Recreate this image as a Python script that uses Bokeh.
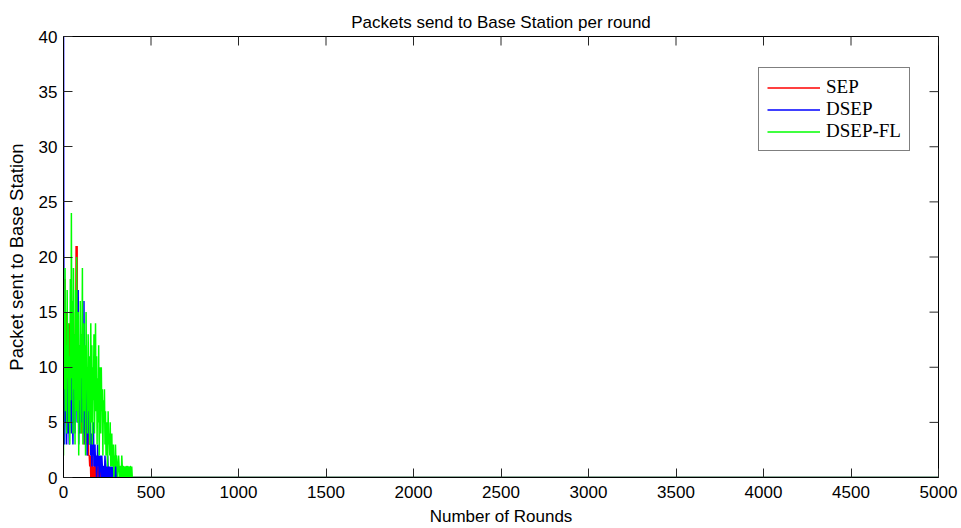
import math
from bokeh.plotting import figure
from bokeh.models import Range1d, Legend, LegendItem, FixedTicker
from bokeh.embed import file_html
from bokeh.resources import INLINE

TITLE = "Packets send to Base Station per round"
X_LABEL = "Number of Rounds"
Y_LABEL = "Packet sent to Base Station"
X_TICKS = [0, 500, 1000, 1500, 2000, 2500, 3000, 3500, 4000, 4500, 5000]
Y_TICKS = [0, 5, 10, 15, 20, 25, 30, 35, 40]
SERIES_NAMES = ["SEP", "DSEP", "DSEP-FL"]
ROUND_STEP = 3
LAST_ROUND = 5000

SEP_VALUES = [4, 16, 9, 18, 12, 7, 15, 10, 14, 6, 13,
              9, 14, 5, 12, 17, 8, 13, 6, 15, 10,
              7, 13, 9, 21, 11, 21, 6, 14, 8, 12,
              5, 11, 8, 13, 4, 10, 7, 9, 3, 8,
              6, 4, 7, 3, 5, 2, 4, 2, 2, 1,
              2, 0, 1, 0, 2, 0, 1, 0, 1, 1,
              0, 1, 1, 0, 1, 0, 1, 1, 0, 1, 0, 1,
              0]

DSEP_VALUES = [46, 6, 3, 9, 5, 12, 3, 8, 4, 10, 6,
               3, 11, 5, 8, 4, 13, 6, 3, 9, 5,
               8, 4, 12, 6, 9, 5, 11, 17, 3, 7,
               4, 10, 6, 13, 5, 8, 9, 4, 16, 6,
               3, 8, 5, 10, 2, 7, 4, 9, 3, 6,
               5, 2, 4, 1, 3, 2, 5, 1, 2, 3,
               1, 2, 0, 1, 3, 1, 2, 0, 1, 2,
               1, 0, 2, 1, 0, 1, 1, 0, 2, 1,
               0, 1, 0, 2, 1, 0, 1, 0, 1, 0,
               1, 0, 1, 0, 1, 0, 0, 1, 0, 2,
               0]

DSEPFL_VALUES = [2, 15, 8, 19, 6, 12, 4, 17, 9, 14, 5,
                 11, 3, 18, 7, 24, 9, 16, 4, 19, 8,
                 13, 3, 17, 6, 20, 10, 5, 15, 2, 12,
                 7, 16, 4, 13, 9, 19, 3, 11, 14, 6,
                 12, 2, 15, 8, 10, 4, 13, 6, 11, 3,
                 9, 14, 5, 12, 3, 10, 7, 13, 4, 8,
                 14, 6, 11, 3, 9, 5, 12, 2, 8, 10,
                 4, 10, 6, 8, 2, 7, 5, 8, 3, 6,
                 2, 5, 4, 1, 6, 3, 4, 2, 5, 1,
                 3, 4, 1, 2, 3, 0, 2, 1, 3, 1,
                 2, 1, 0, 1, 2, 1, 0, 1, 1, 0,
                 2, 1, 0, 1, 1, 0, 1, 0, 1, 1,
                 0, 1, 1, 0, 1, 0, 1, 1, 0, 1,
                 0]

COLORS = ["#ff0000", "#0000ff", "#00ff00"]


def series_xy(values):
    xs = [i * ROUND_STEP for i in range(len(values))] + [LAST_ROUND]
    ys = list(values) + [0]
    return xs, ys


SANS = "Liberation Sans"
SERIF = "Liberation Serif"
TICK_COLOR = "#262626"

p = figure(width=961, height=528,
           x_range=Range1d(X_TICKS[0], X_TICKS[-1]),
           y_range=Range1d(Y_TICKS[0], Y_TICKS[-1]),
           output_backend="svg", toolbar_location=None,
           min_border_left=63, min_border_right=23,
           min_border_top=36, min_border_bottom=50,
           x_axis_label=X_LABEL, y_axis_label=Y_LABEL)

p.title.text = TITLE
p.title.align = "center"
p.title.text_font = SANS
p.title.text_font_size = "17px"
p.title.text_font_style = "normal"
p.title.text_color = "black"
p.title.standoff = 10

p.grid.visible = False
p.outline_line_color = "black"
p.outline_line_width = 1
p.background_fill_color = "white"
p.border_fill_color = "white"

for ax in (p.xaxis[0], p.yaxis[0]):
    ax.axis_line_color = "black"
    ax.major_tick_in = 9
    ax.major_tick_out = 0
    ax.minor_tick_line_color = None
    ax.major_tick_line_color = TICK_COLOR
    ax.major_label_text_font = SANS
    ax.major_label_text_font_size = "17px"
    ax.major_label_text_color = "black"
    ax.axis_label_text_font = SANS
    ax.axis_label_text_font_style = "normal"
    ax.axis_label_text_color = "black"

p.xaxis[0].ticker = FixedTicker(ticks=X_TICKS)
p.yaxis[0].ticker = FixedTicker(ticks=Y_TICKS)
p.xaxis[0].axis_label_text_font_size = "17px"
p.yaxis[0].axis_label_text_font_size = "18.5px"
p.xaxis[0].major_label_standoff = 8
p.xaxis[0].axis_label_standoff = 6
p.yaxis[0].major_label_standoff = 6
p.yaxis[0].axis_label_standoff = 9

# inward tick marks on the top and right edges of the box (clipped to frame)
p.scatter(X_TICKS, [Y_TICKS[-1]] * len(X_TICKS), marker="dash", angle=math.pi / 2,
          size=18, line_color=TICK_COLOR, line_width=1)
p.scatter([X_TICKS[-1]] * len(Y_TICKS), Y_TICKS, marker="dash",
          size=18, line_color=TICK_COLOR, line_width=1)

renderers = []
for name, vals, col in zip(SERIES_NAMES, [SEP_VALUES, DSEP_VALUES, DSEPFL_VALUES], COLORS):
    xs, ys = series_xy(vals)
    r = p.line(xs, ys, line_color=col, line_width=1.5)
    renderers.append((name, r))

legend = Legend(items=[LegendItem(label=n, renderers=[r]) for n, r in renderers],
                location=(695, 326))
legend.label_text_font = SERIF
legend.label_text_font_size = "19px"
legend.label_text_color = "black"
legend.glyph_width = 53
legend.glyph_height = 21
legend.label_height = 21
legend.label_standoff = 6
legend.padding = 8
legend.spacing = 0
legend.margin = 0
legend.border_line_color = "black"
legend.border_line_width = 1
legend.background_fill_color = "white"
legend.background_fill_alpha = 1
p.add_layout(legend)

open("out.html", "w").write(file_html(p, INLINE))
